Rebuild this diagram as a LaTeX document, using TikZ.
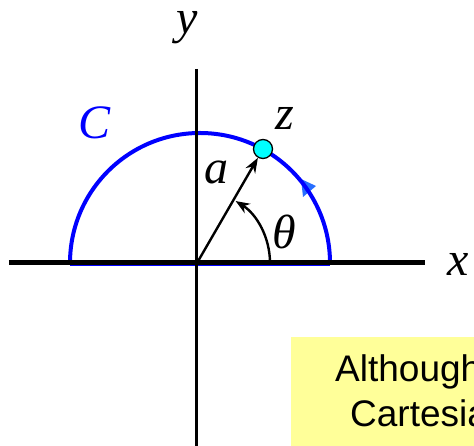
\documentclass[tikz,border=0pt]{standalone}
\usepackage{fontspec}
\setmainfont{Liberation Serif}
\setsansfont{Liberation Sans}
\usetikzlibrary{arrows.meta}

\definecolor{notebg}{RGB}{255,255,153}
\definecolor{dirblue}{RGB}{40,110,255}
\definecolor{ptcyan}{RGB}{0,255,255}

\begin{document}
\begin{tikzpicture}[x=1pt,y=1pt,
  lbl/.style={font=\fontsize{48}{52}\selectfont\itshape,inner sep=0pt},
  note/.style={font=\sffamily\fontsize{37}{44}\selectfont,anchor=base west,inner sep=0pt}]
\useasboundingbox (-197,-183) rectangle (277,263);
\coordinate (O) at (0,0);
% contour C: upper half circle, closed along the real axis
\fill[dirblue] (104,84) -- (119,77) -- (106,66) -- cycle;
\draw[blue,line width=1.5pt] (-127,-2.5) -- (133,-2.5);
\draw[blue,line width=4pt] (133,0) arc[start angle=0,end angle=180,radius=130];
% axes
\draw[line width=5pt] (-188,0) -- (228,0);
\draw[line width=3pt] (0,194) -- (0,-183);
\node[lbl] (xlab) at (261,-1) {x};
\node[lbl] (ylab) at (-10,235) {y};
\node[lbl,text=blue] (clab) at (-102,140) {C};
% the point z and its radius
\node[circle,draw,fill=ptcyan,line width=1.3pt,minimum size=19pt,inner sep=0pt] (z) at (66,114) {};
\draw[line width=2.4pt,-{Stealth[length=15pt,width=11pt]}] (O) -- (z);
\draw[line width=2.4pt,-{Stealth[length=14pt,width=11pt]}] (73,0) arc[start angle=0,end angle=58,radius=73];
\node[lbl] (zlab) at (88,145) {z};
\node[lbl] (alab) at (20,91) {a};
\node[lbl] (thlab) at (87,31) {θ};
% note box
\fill[notebg] (94,-74) rectangle (277,-183);
\node[note] (note1) at (138,-119) {Although};
\node[note] (note2) at (153,-164) {Cartesia};
\end{tikzpicture}
\end{document}
